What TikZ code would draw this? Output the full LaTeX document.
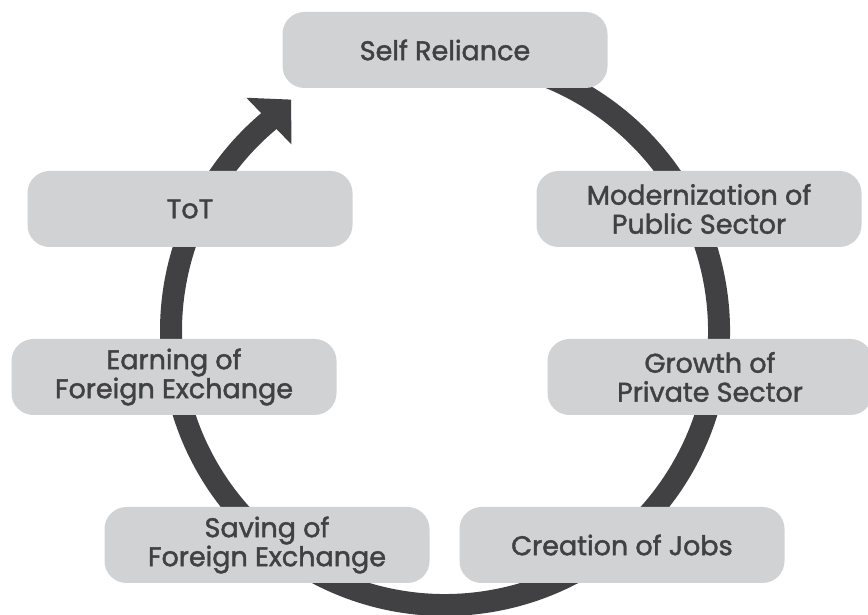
\documentclass[tikz,border=0pt]{standalone}
\usepackage{xcolor}
\usepackage{fontspec}
\setmainfont{Poppins}
\newfontfamily\boxfont{Poppins}[FakeBold=1.6]
\usepackage{tikz}
\usetikzlibrary {positioning}
\usetikzlibrary{arrows.meta}
\definecolor{boxgray}{HTML}{D1D2D4}
\definecolor{ringgray}{HTML}{414042}
\tikzset{ring/.style = {line width=22pt, draw=ringgray, -{Triangle[length=31pt,width=63pt]}}}

\begin{document}
\begin{tikzpicture}[x=1pt,y=1pt, box/.style={rectangle,rounded corners=22pt,fill=boxgray,text=ringgray,minimum width=325pt,minimum height=76pt,align=center,font=\boxfont\fontsize{27}{29}\selectfont}]
                \useasboundingbox (0,0) rectangle (868,615);
                \coordinate (ctr) at (445,284);
                \draw[ring] (ctr) ++(100:274) arc[start angle=100, end angle=-230, radius=274] -- ++(44:31);

                \node[box] (self) at (445,565) {Self Reliance};
                \node[box] (tot) at (190,406) {ToT};
                \node[box] (mod) [right of=tot, node distance=509pt] {Modernization of\\Public Sector};
                \node[box] (earn) at (174,238) {Earning of\\Foreign Exchange};
                \node[box] (grow) [right of=earn, node distance=536pt] {Growth of\\Private Sector};
                \node[box] (save) at (267,70) {Saving of\\Foreign Exchange};
                \node[box] (jobs) [right of=save, node distance=355pt] {Creation of Jobs};
            \end{tikzpicture}
\end{document}
